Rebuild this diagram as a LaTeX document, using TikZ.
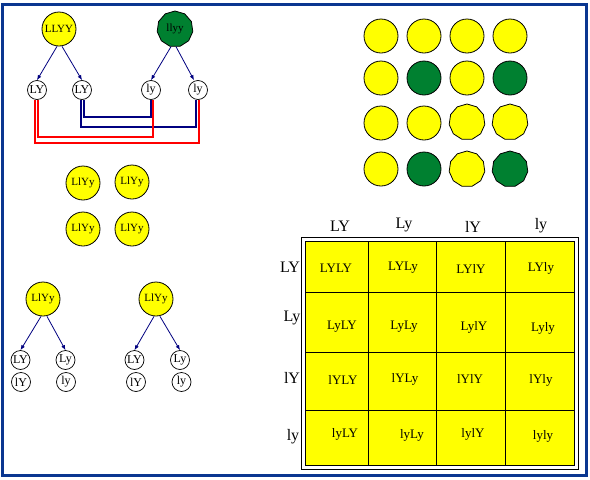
\documentclass[tikz,border=0pt]{standalone}
\usepackage{fontspec}
\setmainfont{Liberation Serif}
\usetikzlibrary{shapes.geometric,arrows.meta,calc}
\definecolor{frameblue}{RGB}{10,54,144}
\definecolor{peagreen}{RGB}{0,128,48}
\definecolor{arrblue}{RGB}{0,0,128}
\definecolor{pureyellow}{RGB}{255,255,0}
\definecolor{purered}{RGB}{255,0,0}
\tikzset{
  pea/.style={circle,draw=black,line width=0.8pt,fill=pureyellow,minimum size=34pt,inner sep=0pt,font=\fontsize{11}{11}\selectfont},
  gpea/.style={pea,fill=peagreen},
  wpea/.style={regular polygon,regular polygon sides=11,draw=black,line width=0.8pt,fill=pureyellow,minimum size=36pt,inner sep=0pt,font=\fontsize{11}{11}\selectfont},
  gwpea/.style={wpea,fill=peagreen},
  gam/.style={circle,draw=black,line width=0.7pt,fill=white,minimum size=19pt,inner sep=0pt,font=\fontsize{12}{12}\selectfont},
  arr/.style={color=arrblue,line width=0.8pt,-{Latex[length=5pt,width=4pt]}},
  redline/.style={color=purered,line width=1.3pt},
  blueline/.style={color=arrblue,line width=1.3pt},
  hdr/.style={font=\fontsize{16}{16}\selectfont,inner sep=0pt},
  cell/.style={font=\fontsize{13}{13}\selectfont,inner sep=0pt},
}
\begin{document}
\begin{tikzpicture}[x=1pt,y=-1pt]
\useasboundingbox (0,0) rectangle (590,480);
\fill[white] (0,0) rectangle (590,480);
\draw[frameblue,line width=3pt] (2.5,4.5) rectangle (586,475.5);

% parents
\node[pea] (P1) at (59,29) {LLYY};
\node[gwpea] (P2) at (175,29) {llyy};
\node[gam] (g1) at (37,90) {LY};
\node[gam] (g2) at (82,90) {LY};
\node[gam] (g3) at (151,90) {ly};
\node[gam] (g4) at (198,90) {ly};
\draw[arr] ([xshift=-2pt]P1.south) -- (g1.north);
\draw[arr] ([xshift=3pt]P1.south) -- (g2.north);
\draw[arr] ([xshift=-4pt]P2.south) -- (g3.north);
\draw[arr] ([xshift=1pt]P2.south) -- ([xshift=-4pt]g4.north);

% connecting lines
\coordinate (s1a) at ([xshift=1pt]g1.south);
\coordinate (s1b) at ([xshift=-2pt]g1.south);
\coordinate (s2a) at ([xshift=2pt]g2.south);
\coordinate (s2b) at ([xshift=-1pt]g2.south);
\coordinate (s3a) at ([xshift=2pt]g3.south);
\coordinate (s3b) at (g3.south);
\coordinate (s4a) at ([xshift=1pt]g4.south);
\coordinate (s4b) at ([xshift=-2pt]g4.south);
\coordinate (yA) at (0,117);
\coordinate (yB) at (0,127);
\coordinate (yC) at (0,137);
\coordinate (yD) at (0,143);
\draw[blueline] (s2a) |- (yA -| s3b) -- (s3b);
\draw[blueline] (s2b) |- (yB -| s4b) -- (s4b);
\draw[redline] (s1a) |- (yC -| s3a) -- (s3a);
\draw[redline] (s1b) |- (yD -| s4a) -- (s4a);

% F1
\node[pea] (f1) at (83,183) {LlYy};
\node[pea] (f2) at (132,182) {LlYy};
\node[pea] (f3) at (83,229) {LlYy};
\node[pea] (f4) at (132,229) {LlYy};

% F1 gametes
\node[pea] (h1) at (43,299) {LlYy};
\node[pea] (h2) at (156,299) {LlYy};
\node[gam] (a1) at (20.5,360) {LY};
\node[gam] (a2) at (65.5,360) {Ly};
\node[gam] (a3) at (21,382) {lY};
\node[gam] (a4) at (66,382) {ly};
\node[gam] (b1) at (134.5,360) {LY};
\node[gam] (b2) at (180,360) {Ly};
\node[gam] (b3) at (136,382) {lY};
\node[gam] (b4) at (181.5,382) {ly};
\draw[arr] ([xshift=-2pt]h1.south) -- (a1.north);
\draw[arr] ([xshift=4pt]h1.south) -- (a2.north);
\draw[arr] ([xshift=-2pt]h2.south) -- (b1.north);
\draw[arr] ([xshift=4pt]h2.south) -- (b2.north);

% F2 peas
\node[pea] (r11) at (381,36) {};
\node[pea] (r12) at (424,36) {};
\node[pea] (r13) at (467,36) {};
\node[pea] (r14) at (510,36) {};
\node[pea] (r21) at (381,78) {};
\node[gpea] (r22) at (424,78) {};
\node[pea] (r23) at (467,78) {};
\node[gpea] (r24) at (510,78) {};
\node[pea] (r31) at (381,123) {};
\node[pea] (r32) at (424,123) {};
\node[wpea] (r33) at (467,122) {};
\node[wpea] (r34) at (510,122) {};
\node[pea] (r41) at (381,169) {};
\node[gpea] (r42) at (424,169) {};
\node[wpea] (r43) at (467,169) {};
\node[gwpea] (r44) at (510,169) {};

% Punnett square
\draw[black,line width=0.8pt,fill=white] (301.5,237.5) rectangle (578,469);
\draw[black,line width=0.8pt,fill=pureyellow] (305.5,241.5) rectangle (574,465);
\foreach \x in {368,436,505} \draw[line width=0.8pt] (\x,241.5) -- (\x,465);
\foreach \y in {292,352,410} \draw[line width=0.8pt] (305.5,\y) -- (574,\y);

\node[hdr] (c1) at (340,226) {LY};
\node[hdr] (c2) at (404,225) {Ly};
\node[hdr] (c3) at (473,227) {lY};
\node[hdr] (c4) at (541,226) {ly};
\node[hdr] (w1) at (290,267) {LY};
\node[hdr] (w2) at (292,318) {Ly};
\node[hdr] (w3) at (292,378) {lY};
\node[hdr] (w4) at (293,437) {ly};

\node[cell] (k11) at (336,268) {LYLY};
\node[cell] (k12) at (403,268) {LYLy};
\node[cell] (k13) at (471,269) {LYlY};
\node[cell] (k14) at (541,268) {LYly};
\node[cell] (k21) at (342,327) {LyLY};
\node[cell] (k22) at (404,327) {LyLy};
\node[cell] (k23) at (474,327) {LylY};
\node[cell] (k24) at (543,328) {Lyly};
\node[cell] (k31) at (343,380) {lYLY};
\node[cell] (k32) at (405,379) {lYLy};
\node[cell] (k33) at (470,379) {lYlY};
\node[cell] (k34) at (541,380) {lYly};
\node[cell] (k41) at (345,434) {lyLY};
\node[cell] (k42) at (412,435) {lyLy};
\node[cell] (k43) at (473,434) {lylY};
\node[cell] (k44) at (543,436) {lyly};
\end{tikzpicture}
\end{document}
